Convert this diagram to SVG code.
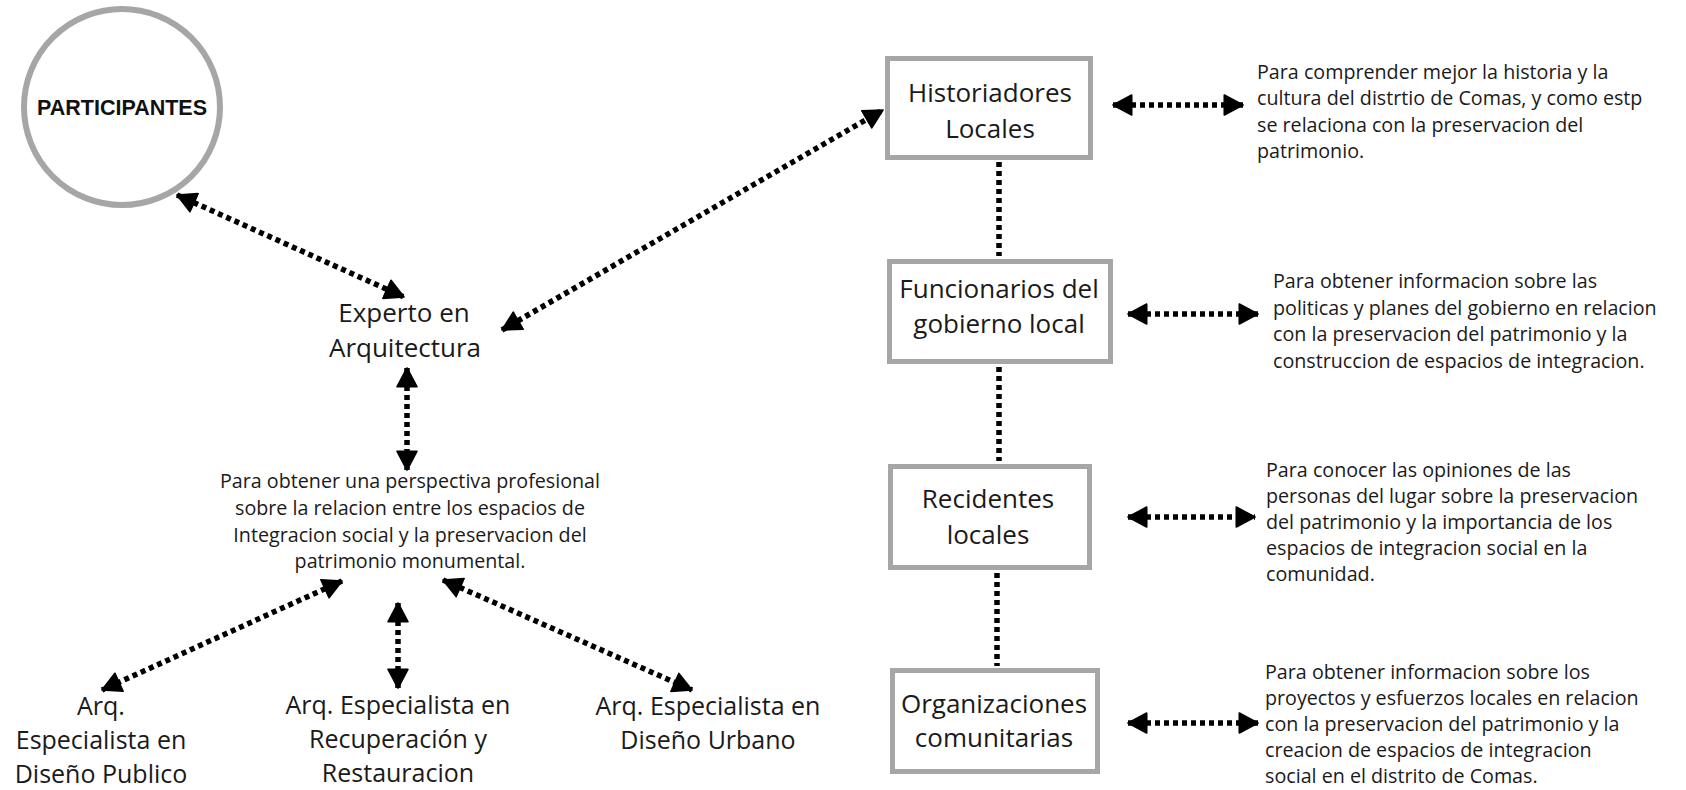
<svg xmlns="http://www.w3.org/2000/svg" width="1686" height="790" viewBox="0 0 1686 790">
<defs>
<style>
.box{fill:#fff;stroke:#a6a6a6;stroke-width:5}
.lbl{font-family:"Open Sans","Liberation Sans",sans-serif;font-size:26px;fill:#1a1a1a;text-anchor:middle}
.sub{font-family:"Open Sans","Liberation Sans",sans-serif;font-size:25px;fill:#1a1a1a;text-anchor:middle}
.par{font-family:"Open Sans","Liberation Sans",sans-serif;font-size:19.7px;fill:#1a1a1a}
.dot{fill:none;stroke:#000;stroke-width:5.5;stroke-dasharray:5 4}
.arr{marker-start:url(#ah);marker-end:url(#ah)}
</style>
<marker id="ah" markerUnits="userSpaceOnUse" markerWidth="22" markerHeight="22" refX="18" refY="10" orient="auto-start-reverse" viewBox="0 0 20 20">
<path d="M1,1 L18,10 L1,19 Z" fill="#000" stroke="#000" stroke-width="1.5" stroke-linejoin="round"/>
</marker>
</defs>
<rect width="1686" height="790" fill="#fff"/>

<g id="connectors">
<line class="dot arr" x1="177" y1="195" x2="404" y2="297"/>
<line class="dot arr" x1="502" y1="330" x2="883" y2="110"/>
<line class="dot arr" x1="407" y1="368" x2="407" y2="470"/>
<line class="dot arr" x1="342" y1="581" x2="102" y2="690"/>
<line class="dot arr" x1="398" y1="603" x2="398" y2="688"/>
<line class="dot arr" x1="443" y1="580" x2="692" y2="690"/>
<line class="dot arr" x1="1113" y1="105" x2="1243" y2="105"/>
<line class="dot arr" x1="1128" y1="314" x2="1258" y2="314"/>
<line class="dot arr" x1="1128" y1="517" x2="1255" y2="517"/>
<line class="dot arr" x1="1128" y1="723" x2="1258" y2="723"/>
<line class="dot" x1="999" y1="162" x2="999" y2="256"/>
<line class="dot" x1="999" y1="367" x2="999" y2="461"/>
<line class="dot" x1="997" y1="573" x2="997" y2="666"/>
</g>

<g id="participantes">
<circle cx="122" cy="107" r="98" fill="#fff" stroke="#a6a6a6" stroke-width="6"/>
<text x="122" y="115" font-family="'Liberation Sans',Arial,sans-serif" font-weight="bold" font-size="21.5" fill="#111" text-anchor="middle">PARTICIPANTES</text>
</g>

<g id="experto">
<text class="lbl" x="404" y="322">Experto en</text>
<text class="lbl" x="405" y="357">Arquitectura</text>
</g>

<g id="perspectiva">
<text class="par" x="410" y="488" text-anchor="middle">Para obtener una perspectiva profesional</text>
<text class="par" x="410" y="515" text-anchor="middle">sobre la relacion entre los espacios de</text>
<text class="par" x="410" y="542" text-anchor="middle">Integracion social y la preservacion del</text>
<text class="par" x="410" y="568" text-anchor="middle">patrimonio monumental.</text>
</g>

<g id="arq-publico">
<text class="sub" x="101" y="715">Arq.</text>
<text class="sub" x="101" y="749">Especialista en</text>
<text class="sub" x="101" y="783">Diseño Publico</text>
</g>

<g id="arq-recuperacion">
<text class="sub" x="398" y="714">Arq. Especialista en</text>
<text class="sub" x="398" y="748">Recuperación y</text>
<text class="sub" x="398" y="782">Restauracion</text>
</g>

<g id="arq-urbano">
<text class="sub" x="708" y="715">Arq. Especialista en</text>
<text class="sub" x="708" y="749">Diseño Urbano</text>
</g>

<g id="historiadores">
<rect class="box" x="887.5" y="58.5" width="203" height="99"/>
<text class="lbl" x="990" y="102">Historiadores</text>
<text class="lbl" x="990" y="138">Locales</text>
</g>

<g id="funcionarios">
<rect class="box" x="889.5" y="261.5" width="221" height="100"/>
<text class="lbl" x="999" y="298">Funcionarios del</text>
<text class="lbl" x="999" y="333">gobierno local</text>
</g>

<g id="recidentes">
<rect class="box" x="890.5" y="466.5" width="199" height="101"/>
<text class="lbl" x="988" y="508">Recidentes</text>
<text class="lbl" x="988" y="544">locales</text>
</g>

<g id="organizaciones">
<rect class="box" x="892.5" y="670.5" width="205" height="101"/>
<text class="lbl" x="994" y="713">Organizaciones</text>
<text class="lbl" x="994" y="747">comunitarias</text>
</g>

<g id="texto-historiadores">
<text class="par" x="1257" y="79">Para comprender mejor la historia y la</text>
<text class="par" x="1257" y="105">cultura del distrtio de Comas, y como estp</text>
<text class="par" x="1257" y="132">se relaciona con la preservacion del</text>
<text class="par" x="1257" y="158">patrimonio.</text>
</g>

<g id="texto-funcionarios">
<text class="par" x="1273" y="288">Para obtener informacion sobre las</text>
<text class="par" x="1273" y="315">politicas y planes del gobierno en relacion</text>
<text class="par" x="1273" y="341">con la preservacion del patrimonio y la</text>
<text class="par" x="1273" y="368">construccion de espacios de integracion.</text>
</g>

<g id="texto-recidentes">
<text class="par" x="1266" y="477">Para conocer las opiniones de las</text>
<text class="par" x="1266" y="503">personas del lugar sobre la preservacion</text>
<text class="par" x="1266" y="529">del patrimonio y la importancia de los</text>
<text class="par" x="1266" y="555">espacios de integracion social en la</text>
<text class="par" x="1266" y="581">comunidad.</text>
</g>

<g id="texto-organizaciones">
<text class="par" x="1265" y="679">Para obtener informacion sobre los</text>
<text class="par" x="1265" y="705">proyectos y esfuerzos locales en relacion</text>
<text class="par" x="1265" y="731">con la preservacion del patrimonio y la</text>
<text class="par" x="1265" y="757">creacion de espacios de integracion</text>
<text class="par" x="1265" y="783">social en el distrito de Comas.</text>
</g>
</svg>
